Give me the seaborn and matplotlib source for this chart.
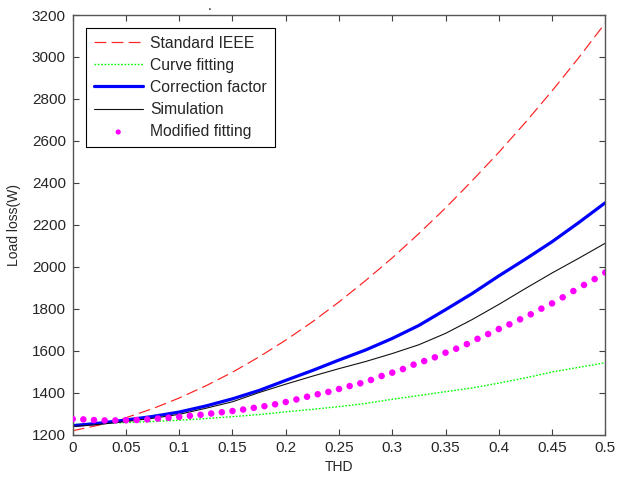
import numpy as np
import pandas as pd
import matplotlib
matplotlib.use("Agg")
import matplotlib.pyplot as plt
import seaborn as sns

# ---- data ----
thd_line = [0.0, 0.025, 0.05, 0.075, 0.1, 0.125, 0.15, 0.175, 0.2, 0.225, 0.25,
            0.275, 0.3, 0.325, 0.35, 0.375, 0.4, 0.425, 0.45, 0.475, 0.5]
standard_ieee = [1218, 1245, 1280, 1323, 1374, 1432, 1497, 1570, 1650, 1737, 1832,
                 1934, 2042, 2158, 2280, 2410, 2545, 2688, 2838, 2996, 3162]
curve_fitting = [1248, 1252, 1257, 1262, 1268, 1276, 1285, 1295, 1308, 1320, 1333,
                 1348, 1368, 1386, 1404, 1422, 1445, 1470, 1498, 1520, 1542]
correction_factor = [1242, 1254, 1269, 1286, 1307, 1336, 1370, 1410, 1458, 1505, 1555,
                     1603, 1658, 1720, 1795, 1872, 1956, 2036, 2119, 2210, 2305]
simulation = [1238, 1248, 1262, 1277, 1296, 1325, 1356, 1400, 1440, 1478, 1514,
              1548, 1586, 1628, 1682, 1748, 1820, 1896, 1970, 2040, 2112]

thd_dots = [round(0.01 * i, 2) for i in range(51)]
modified_fitting = [1274, 1272, 1269, 1267, 1267, 1268, 1269, 1272, 1276, 1280,
                    1284, 1289, 1294, 1300, 1306, 1312, 1319, 1327, 1335, 1344,
                    1355, 1367, 1380, 1392, 1403, 1417, 1431, 1444, 1460, 1479,
                    1495, 1512, 1533, 1550, 1568, 1590, 1609, 1631, 1656, 1679,
                    1703, 1725, 1749, 1773, 1800, 1825, 1854, 1884, 1913, 1941,
                    1972]

x_ticks = [0, 0.05, 0.1, 0.15, 0.2, 0.25, 0.3, 0.35, 0.4, 0.45, 0.5]
x_tick_labels = ["0", "0.05", "0.1", "0.15", "0.2", "0.25", "0.3", "0.35", "0.4", "0.45", "0.5"]
y_ticks = [1200, 1400, 1600, 1800, 2000, 2200, 2400, 2600, 2800, 3000, 3200]

# ---- style ----
sns.set_style("ticks")
plt.rcParams["font.family"] = ["Liberation Sans", "DejaVu Sans"]

fig = plt.figure(figsize=(6.17, 4.79), dpi=100)
ax = fig.add_axes([72.7 / 617, 1 - 434.5 / 479, (605.3 - 72.7) / 617, (434.5 - 15) / 479])

sns.lineplot(x=thd_line, y=standard_ieee, ax=ax, color="#ff2020", lw=0.85,
             label="Standard IEEE", linestyle=(0, (10, 4.5)))
sns.lineplot(x=thd_line, y=curve_fitting, ax=ax, color="#00ff00", lw=1.0,
             label="Curve fitting", linestyle=(0, (1.2, 1.2)))
sns.lineplot(x=thd_line, y=correction_factor, ax=ax, color="#0000ff", lw=2.3,
             label="Correction factor")
sns.lineplot(x=thd_line, y=simulation, ax=ax, color="#111111", lw=0.8,
             label="Simulation")
sns.scatterplot(x=thd_dots, y=modified_fitting, ax=ax, color="#ff00ff", s=22,
                edgecolor="none", label="Modified fitting", zorder=5)

ax.set_xlim(0, 0.5)
ax.set_ylim(1200, 3200)
ax.set_xticks(x_ticks)
ax.set_xticklabels(x_tick_labels)
ax.set_yticks(y_ticks)
ax.tick_params(direction="in", length=4, width=0.8, color="#404040",
               labelsize=11, top=True, right=True, pad=5)
for sp in ax.spines.values():
    sp.set_visible(True)
    sp.set_color("#555555")
    sp.set_linewidth(1.0)

ax.set_xlabel("THD", fontsize=10, labelpad=3)
ax.set_ylabel("Load loss(W)", fontsize=10, labelpad=8)

leg = ax.legend(loc="upper left", bbox_to_anchor=(0.025, 0.969), fontsize=11.3,
                frameon=True, fancybox=False, edgecolor="black", framealpha=1,
                handlelength=3.1, handletextpad=0.5, labelspacing=0.45,
                borderpad=0.5, borderaxespad=0, markerscale=0.8)
leg.get_frame().set_linewidth(0.8)

fig.text(210 / 617, 1 - 6 / 479, ".", ha="center", va="center", fontsize=10)

fig.savefig("out.png", dpi=100)
